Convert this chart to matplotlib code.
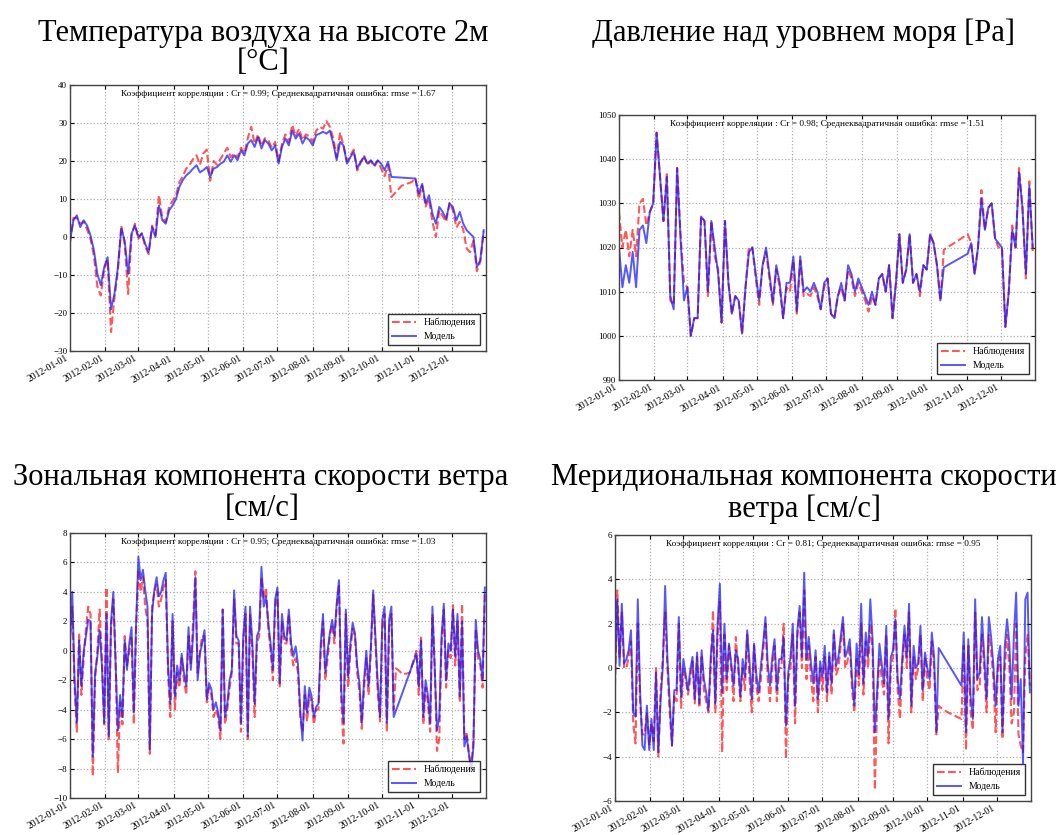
import numpy as np
import pandas as pd
import matplotlib
matplotlib.use('Agg')
import matplotlib.pyplot as plt
import matplotlib.dates as mdates

nan = np.nan

# Temperature at 2 m [C], every 3 days from 2012-01-01
temp_model = [
    -1.0, 4.4, 5.7, 2.6, 4.4, 3.0, 0.4, -3.5, -9.7, -12.7,
    -7.9, -5.3, -19.0, -15.0, -8.0, 2.2, -1.0, -9.7, 0.9, 3.0,
    0.0, 0.9, -1.8, -4.0, 2.6, 0.0, 8.3, 4.4, 3.5, 7.0,
    8.3, 10.0, 13.2, 15.0, 16.2, 17.0, 18.0, 18.9, 17.0, 17.6,
    18.4, 15.8, 18.0, 18.4, 19.3, 19.8, 21.5, 19.8, 21.5, 20.2,
    22.8, 21.5, 24.6, 25.5, 23.7, 26.3, 23.3, 25.5, 24.6, 22.8,
    24.1, 19.3, 23.7, 25.9, 24.1, 28.0, 25.9, 27.2, 24.6, 26.3,
    25.5, 24.1, 26.8, 27.2, 27.7, 27.2, 28.0, 24.6, 20.2, 25.0,
    24.1, 19.3, 21.0, 22.4, 18.0, 19.8, 21.0, 19.3, 20.2, 18.9,
    20.2, 19.3, 17.6, 19.8, 15.8, nan, nan, nan, nan, nan,
    nan, 15.4, 11.4, 14.0, 8.8, 11.0, 6.1, 3.5, 7.9, 6.6,
    4.8, 8.8, 7.9, 4.4, 6.6, 3.5, 1.8, 0.9, 0.0, -7.9,
    -6.1, 1.8]
temp_obs = [
    -1.5, 5.0, 5.0, 3.5, 4.0, 2.0, -0.5, -5.0, -13.0, -15.4,
    -8.5, -6.0, -25.0, -16.0, -9.0, 3.0, -2.0, -15.0, 0.5, 3.5,
    -0.5, 1.0, -2.5, -4.5, 3.0, 0.5, 11.0, 5.0, 4.0, 8.0,
    9.5, 11.0, 14.5, 16.0, 18.0, 19.0, 20.5, 21.5, 19.0, 22.0,
    23.0, 14.8, 20.0, 19.0, 20.5, 22.0, 23.5, 21.0, 22.0, 21.0,
    23.5, 22.0, 26.0, 29.0, 24.5, 27.0, 24.0, 26.0, 25.5, 23.5,
    25.0, 20.0, 24.5, 27.0, 25.0, 29.5, 26.5, 28.5, 25.5, 27.0,
    26.5, 25.0, 28.0, 29.0, 28.5, 30.5, 29.0, 26.0, 21.0, 27.5,
    24.0, 20.0, 21.5, 23.0, 17.5, 19.5, 21.5, 19.0, 20.0, 18.5,
    20.0, 18.0, 16.0, 19.0, 10.5, 11.5, 12.5, 13.5, nan, nan,
    14.5, 15.5, 10.0, 13.5, 8.0, 10.0, 4.0, 0.0, 7.0, 5.5,
    4.0, 9.0, 7.0, 2.5, 4.0, 2.0, -3.0, -4.0, -1.0, -9.0,
    -6.5, 1.5]

# Sea level pressure, every 3 days
pres_model = [
    1020, 1011, 1016, 1012, 1019, 1011, 1024, 1025, 1021, 1028,
    1030, 1046, 1036, 1026, 1036, 1009, 1006, 1038, 1022, 1008,
    1011, 1000, 1004, 1004, 1027, 1026, 1010, 1026, 1020, 1014,
    1003, 1026, 1012, 1005, 1009, 1008, 1000.5, 1011, 1019, 1020,
    1014, 1008, 1016, 1020, 1014, 1007.5, 1016, 1012, 1004, 1012,
    1012, 1018, 1005.5, 1018, 1010, 1011, 1010, 1012, 1010, 1006,
    1012, 1013, 1005, 1004, 1009, 1012, 1008, 1016, 1014, 1010,
    1013, 1011, 1009, 1007, 1010, 1007, 1013, 1014, 1010, 1016,
    1004, 1012, 1023, 1012, 1015, 1023, 1012, 1014, 1010, 1016,
    1015, 1023, 1021, 1016, 1008, 1015.5, nan, nan, nan, nan,
    nan, nan, 1018.6, 1021, 1014, 1020, 1031, 1024, 1029, 1030,
    1022, 1021, 1020, 1002, 1010, 1024, 1020, 1037, 1029, 1014,
    1034, 1020]
pres_obs = [
    1028, 1020, 1024, 1018, 1024, 1018, 1030, 1031, 1025, 1028,
    1030, 1046, 1036, 1026, 1037, 1008, 1007, 1038, 1023, 1012,
    1011, 1000, 1004, 1004, 1027, 1026, 1009, 1026, 1018, 1015,
    1003, 1026, 1012, 1005, 1009, 1008, 1000.5, 1011, 1020, 1020,
    1013, 1007, 1016, 1019, 1013, 1007, 1015, 1011, 1004, 1011,
    1010, 1017, 1005, 1017, 1009, 1009.5, 1009, 1011, 1009, 1006,
    1011, 1013, 1005, 1004, 1009, 1011, 1008, 1015, 1013, 1009,
    1012, 1010, 1008, 1005.5, 1009, 1007, 1013, 1014, 1010, 1016,
    1004, 1012, 1023, 1012, 1015, 1023, 1012, 1014, 1009, 1016,
    1015, 1023, 1021, 1016, 1008, 1019.5, 1020, nan, nan, nan,
    nan, nan, 1023, 1021, 1014, 1020, 1033, 1024, 1029, 1030,
    1022, 1020, 1020, 1002, 1010, 1025, 1020, 1038, 1029, 1013,
    1035, 1019]

# Zonal wind, every 2 days
u_model = [
    0.5, 4.0, -2.0, -4.9, 0.7, -2.4, 0.0, 1.0, 2.1, 2.0,
    -7.2, -1.5, -0.4, 1.4, -1.0, -4.9, 2.5, -5.8, 2.0, 4.0,
    -0.9, -5.4, -3.0, -4.5, 0.7, -1.3, 0.5, 1.6, -4.2, 1.9,
    6.4, 4.8, 5.5, 4.1, 3.0, -6.7, 2.5, 4.1, 5.0, 3.7,
    4.0, 4.8, 5.3, -0.9, -3.6, 2.5, -3.1, -1.0, -2.0, -0.2,
    -1.5, -2.4, 1.6, -1.3, 1.0, 5.0, -2.0, -0.2, 0.5, 1.4,
    -3.3, -2.2, -2.6, -4.0, -3.5, -4.2, -5.4, 2.8, -4.5, -3.6,
    -2.0, -1.3, 4.1, 1.0, 0.7, -4.9, 1.0, 3.0, -5.8, 3.0,
    0.5, -3.6, 1.0, 1.4, 5.7, 3.0, 3.7, 1.9, 0.5, -1.3,
    3.5, 4.3, -2.2, 2.5, 1.0, 0.7, 2.8, 0.5, -0.4, 0.3,
    -0.9, -4.0, -6.1, -2.4, -4.2, -2.5, -3.1, -4.5, -3.8, -3.6,
    0.5, 2.5, -1.5, 0.0, 1.2, 2.1, 1.0, 3.2, 4.8, -2.7,
    -4.9, 2.8, -1.8, 0.5, 1.9, 1.2, -1.0, -2.2, -4.9, -2.0,
    0.0, -2.4, 0.3, 4.1, 1.0, -2.2, -4.5, 2.1, 3.0, -4.9,
    2.1, 3.0, -4.5, nan, nan, nan, nan, nan, nan, nan,
    nan, nan, -0.2, -2.4, 0.7, -4.5, -2.0, -3.0, -4.9, 3.0,
    -1.3, -5.4, -4.5, 1.0, 3.2, -2.0, 0.5, 0.0, 2.8, -0.4,
    2.5, -3.1, 2.0, -6.5, -5.8, -7.0, -8.1, -6.5, 2.1, 0.0,
    -0.6, -2.0, 4.3]
u_obs = [
    1.0, 3.0, -2.5, -5.5, 1.2, -3.0, -0.5, 1.5, 3.0, 2.5,
    -8.5, -2.0, 0.0, 2.8, -0.5, -5.0, 4.3, -6.0, 1.5, 3.5,
    -0.5, -8.3, -3.5, -5.0, 1.0, -1.0, 0.0, 1.0, -5.0, 1.5,
    5.5, 4.0, 5.0, 3.0, 2.0, -7.0, 3.0, 4.0, 4.5, 3.0,
    3.5, 4.3, 4.8, -1.5, -4.5, 2.0, -4.0, -1.5, -2.5, -0.5,
    -2.0, -3.0, 1.0, -1.0, 2.0, 5.4, -1.5, 0.0, 1.0, 1.0,
    -3.5, -2.5, -3.0, -4.5, -4.0, -4.5, -6.0, 2.8, -5.0, -4.0,
    -2.5, -1.5, 3.5, 0.5, 0.5, -5.5, 0.5, 2.5, -6.0, 2.5,
    0.0, -4.5, 0.5, 1.0, 5.0, 3.5, 4.3, 1.5, 0.0, -2.0,
    3.0, 4.0, -2.5, 2.0, 0.5, 0.5, 2.5, 0.0, -1.0, -0.5,
    -1.5, -4.5, -5.5, -3.0, -4.8, -3.0, -3.5, -5.0, -4.0, -4.0,
    0.0, 2.0, -2.0, -0.5, 1.0, 1.8, 0.5, 3.0, 4.5, -3.5,
    -6.3, 2.5, -2.5, 0.0, 1.5, 1.0, -1.5, -2.8, -5.3, -2.5,
    -0.5, -3.0, 0.0, 3.8, 0.5, -2.8, -4.8, 1.5, 2.5, -5.5,
    1.5, 2.5, -4.0, -1.2, -1.3, nan, -1.6, nan, nan, -1.5,
    nan, nan, 0.0, -3.0, 1.0, -5.0, -2.5, -3.5, -5.5, 2.5,
    -1.0, -6.8, -6.0, 0.5, 2.8, -2.5, 0.0, -0.5, 3.1, -1.0,
    2.0, -3.5, 3.2, -6.0, -5.5, -7.0, -8.0, -6.0, 1.5, -0.5,
    -1.0, -2.5, 4.0]

# Meridional wind, every 2 days
v_model = [
    -0.4, 3.1, 0.1, 2.9, 0.2, 0.4, 0.8, 1.7, -2.0, -2.2,
    3.1, -1.0, -3.5, -3.7, -1.7, -3.7, -2.3, -3.7, -0.2, -3.8,
    -1.5, 0.1, 3.7, 0.4, -1.5, -3.5, -1.0, -1.0, 2.3, -1.3,
    0.4, -0.3, -1.0, -0.1, 0.5, -1.4, 0.7, -1.6, 0.8, -0.5,
    -1.1, -1.9, 0.5, 1.7, -1.6, 2.0, 3.8, -1.1, 2.0, -0.5,
    1.1, 0.2, -0.8, 0.8, 0.4, -1.3, 0.4, -0.4, 1.7, 0.3,
    -1.4, 1.1, -0.3, -1.1, 0.1, 1.1, 2.3, 0.2, -0.8, 0.5,
    1.3, -1.0, 0.4, 0.4, 1.4, -2.6, -0.2, 0.5, 2.0, -1.7,
    1.7, 2.8, 0.5, 4.3, 0.4, 1.4, 0.2, -0.7, 0.8, -1.4,
    0.3, -0.4, 1.0, -1.1, 0.7, -0.7, 1.7, 0.1, 0.5, 1.4,
    2.3, 0.5, 0.8, 1.3, -0.5, -1.7, 1.1, -0.3, 2.9, -0.7,
    1.6, 0.5, 3.1, 1.3, -2.9, -1.0, 1.1, 0.2, -0.7, 1.9,
    -2.3, 0.5, 0.8, 2.2, -0.5, -1.4, 0.4, 1.9, 0.5, 2.9,
    -1.7, 1.0, 0.0, 0.2, 1.9, -1.0, 0.7, 0.0, -0.5, 1.6,
    0.5, -2.9, 0.9, nan, nan, nan, nan, nan, nan, nan,
    nan, nan, -0.8, 1.6, -2.9, 1.3, -1.3, -2.3, 3.1, -0.5,
    -0.2, 2.3, 0.5, -1.4, 2.3, 1.4, 0.1, -1.7, 0.4, 1.0,
    -2.9, 1.0, 2.2, 1.1, -1.4, 1.5, 3.4, -1.7, -0.5, -4.3,
    3.1, 3.4, -1.1]
v_obs = [
    -0.8, 3.5, 0.5, 2.5, 0.0, 0.0, 0.5, 1.2, -2.5, -3.4,
    2.0, -1.5, -3.0, -3.0, -2.0, -3.5, -2.5, -3.3, 0.0, -4.0,
    -1.0, 0.5, 2.5, 0.0, -2.0, -3.5, -1.2, -1.5, 2.0, -1.8,
    0.0, -0.5, -1.2, -0.5, 0.3, -1.6, 0.5, -1.8, 0.5, -1.0,
    -1.5, -2.0, 0.0, 2.6, -2.0, 1.5, 3.0, -3.8, 1.5, -1.0,
    1.0, 0.0, -1.5, 1.4, 0.0, -1.5, 0.0, -1.0, 1.5, -0.5,
    -2.0, 1.0, -0.8, -1.5, -0.5, 0.8, 2.0, -0.5, -1.5, 0.0,
    1.0, -1.5, 0.0, 0.0, 2.0, -4.1, -0.5, 0.0, 1.5, -2.5,
    1.5, 2.5, 0.0, 3.5, -0.5, 1.0, -0.5, -1.5, 0.5, -2.0,
    0.0, -1.0, 0.5, -1.5, 0.5, -1.2, 1.5, -0.3, 0.0, 1.0,
    2.0, 0.0, 0.3, 1.0, -1.0, -2.0, 0.5, -0.8, 2.0, -1.2,
    1.2, 0.0, 2.0, 0.8, -5.5, -1.5, 0.5, -0.5, -1.2, 1.5,
    -3.4, 0.0, 0.5, 2.7, -1.0, -2.3, 0.0, 1.5, 0.0, 2.5,
    -2.0, 0.5, -0.5, 0.0, 1.5, -1.5, 0.5, -0.5, -1.0, 1.2,
    0.0, -3.0, -1.7, -1.8, nan, nan, -2.0, nan, nan, nan,
    nan, nan, -2.3, 1.0, -3.7, 1.0, -2.0, -2.8, 2.5, -1.0,
    -0.8, 1.5, 0.0, -2.0, 1.5, 0.8, -0.5, -2.9, 0.0, 0.5,
    -3.2, 0.0, 1.5, 0.0, -2.5, -2.0, 2.0, -3.0, -3.5, -3.8,
    0.5, 1.5, -0.8]

stats = [
    'Коэффициент корреляции : Cr = 0.99; Среднеквадратичная ошибка: rmse = 1.67',
    'Коэффициент корреляции : Cr = 0.98; Среднеквадратичная ошибка: rmse = 1.51',
    'Коэффициент корреляции : Cr = 0.95; Среднеквадратичная ошибка: rmse = 1.03',
    'Коэффициент корреляции : Cr = 0.81; Среднеквадратичная ошибка: rmse = 0.95',
]

SERIF = 'Liberation Serif'


def draw(ax, step, obs, model, ylim, ystep, text):
    obs = np.array(obs, dtype=float)
    model = np.array(model, dtype=float)
    dates = pd.date_range('2012-01-01', periods=len(obs), freq='%dD' % step)
    mo = ~np.isnan(obs)
    mm = ~np.isnan(model)
    ax.plot(dates[mo], obs[mo], color='#ff2020', ls='--', lw=1.5, alpha=0.75,
            label='Наблюдения')
    ax.plot(dates[mm], model[mm], color='#1010ff', ls='-', lw=1.4, alpha=0.7,
            label='Модель')
    ax.set_xlim(pd.Timestamp('2012-01-01'), pd.Timestamp('2012-12-31'))
    ax.set_ylim(*ylim)
    ax.set_yticks(np.arange(ylim[0], ylim[1] + ystep / 2, ystep))
    ax.xaxis.set_major_locator(mdates.MonthLocator())
    ax.xaxis.set_major_formatter(mdates.DateFormatter('%Y-%m-%d'))
    for lab in ax.get_xticklabels():
        lab.set_rotation(30)
        lab.set_ha('right')
        lab.set_family(SERIF)
        lab.set_fontsize(7)
    for lab in ax.get_yticklabels():
        lab.set_family(SERIF)
        lab.set_fontsize(6.5)
    ax.tick_params(direction='in', top=True, right=True, length=3, pad=2)
    ax.grid(True, color='#b0b0b0', ls=':', lw=0.9)
    for sp in ax.spines.values():
        sp.set_color('#444444')
        sp.set_linewidth(1.0)
    ax.text(0.5, 0.965, text, transform=ax.transAxes, ha='center', va='center',
            fontsize=6.7, family=SERIF)
    leg = ax.legend(loc='lower right', prop={'family': SERIF, 'size': 7},
                    fancybox=False, edgecolor='black', handlelength=2.5,
                    borderaxespad=0.6)
    leg.get_frame().set_linewidth(1.0)


fig = plt.figure(figsize=(10.64, 8.35), dpi=100)
W, H = 1064.0, 835.0

def axes_px(left, top, right, bottom):
    return fig.add_axes([left / W, 1 - bottom / H, (right - left) / W, (bottom - top) / H])

ax1 = axes_px(70, 85, 486, 351)
ax2 = axes_px(619, 115, 1035, 380)
ax3 = axes_px(70, 533, 486, 798)
ax4 = axes_px(615, 535, 1031, 801)

draw(ax1, 3, temp_obs, temp_model, (-30, 40), 10, stats[0])
draw(ax2, 3, pres_obs, pres_model, (990, 1050), 10, stats[1])
draw(ax3, 2, u_obs, u_model, (-10, 8), 2, stats[2])
draw(ax4, 2, v_obs, v_model, (-6, 6), 2, stats[3])

tsize = 22
fig.text(263 / W, 1 - 33 / H, 'Температура воздуха на высоте 2м', ha='center', va='center',
         fontsize=tsize, family=SERIF)
fig.text(263 / W, 1 - 63 / H, '[°C]', ha='center', va='center', fontsize=tsize, family=SERIF)
fig.text(803 / W, 1 - 33 / H, 'Давление над уровнем моря [Pa]', ha='center', va='center',
         fontsize=tsize, family=SERIF)
fig.text(261 / W, 1 - 478 / H, 'Зональная компонента скорости ветра', ha='center',
         va='center', fontsize=tsize, family=SERIF)
fig.text(262 / W, 1 - 509 / H, '[см/с]', ha='center', va='center', fontsize=tsize, family=SERIF)
fig.text(804 / W, 1 - 478 / H, 'Меридиональная компонента скорости', ha='center',
         va='center', fontsize=tsize, family=SERIF)
fig.text(805 / W, 1 - 509 / H, 'ветра [см/с]', ha='center', va='center', fontsize=tsize,
         family=SERIF)

fig.savefig('out.png', dpi=100, facecolor='white')
